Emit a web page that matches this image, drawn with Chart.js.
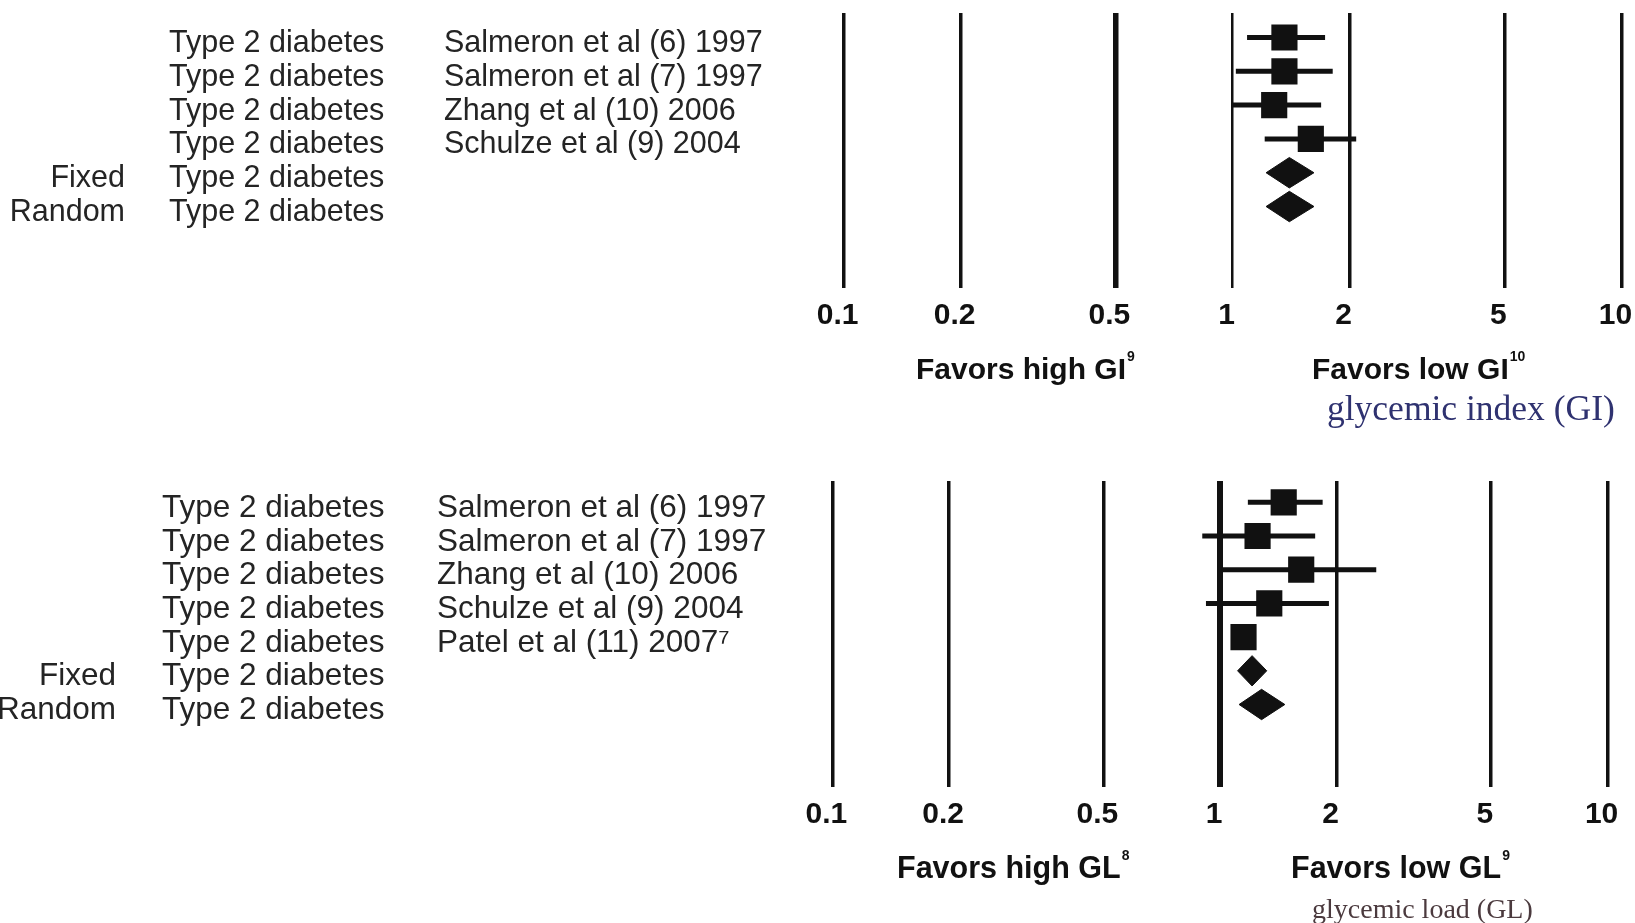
<!DOCTYPE html>
<html>
<head>
<meta charset="utf-8">
<script src="https://cdn.jsdelivr.net/npm/chart.js@4.4.1/dist/chart.umd.min.js"></script>
<style>
    html, body { margin: 0; padding: 0; background: #fff; }
    body { width: 1635px; height: 923px; position: relative; overflow: hidden; font-family: 'Liberation Sans', Arial, sans-serif; }
    .panel { position: absolute; left: 0; width: 1635px; }
    .favor { position: absolute; font-weight: bold; line-height: 1; color: #111; white-space: nowrap; }
    .favor .sup { font-size: 14px; position: relative; top: -18px; margin-left: 1px; }
    .caption { position: absolute; font-family: 'Liberation Serif', 'Times New Roman', serif; line-height: 1; white-space: nowrap; }
</style>
</head>
<body>
<div class="panel" style="top:0;height:440px"><canvas id="gi-chart"></canvas></div>
<div class="panel" style="top:440px;height:483px"><canvas id="gl-chart"></canvas></div>

<div class="favor" style="left:916px;top:354px;font-size:30px">Favors high GI<span class="sup">9</span></div>
<div class="favor" style="left:1312px;top:354px;font-size:30px">Favors low GI<span class="sup">10</span></div>
<div class="caption" style="left:1327px;top:391px;font-size:35.5px;color:#2f3270">glycemic index (GI)</div>

<div class="favor" style="left:897px;top:852px;font-size:30.5px">Favors high GL<span class="sup">8</span></div>
<div class="favor" style="left:1291px;top:852px;font-size:30.5px">Favors low GL<span class="sup">9</span></div>
<div class="caption" style="left:1312px;top:895px;font-size:28px;color:#4b3a3e">glycemic load (GL)</div>

<script>
// 刻度
const xTicks = [0.1, 0.2, 0.5, 1, 2, 5, 10];
const xTickLabels = ['0.1', '0.2', '0.5', '1', '2', '5', '10'];

// 上圖：升糖指數 (GI)
const giModels = ['', '', '', '', 'Fixed', 'Random'];
const giOutcomes = ['Type 2 diabetes', 'Type 2 diabetes', 'Type 2 diabetes', 'Type 2 diabetes', 'Type 2 diabetes', 'Type 2 diabetes'];
const giStudies = ['Salmeron et al (6) 1997', 'Salmeron et al (7) 1997', 'Zhang et al (10) 2006', 'Schulze et al (9) 2004', '', ''];
const giEstimates = [1.36, 1.36, 1.28, 1.59, 1.40, 1.40];
const giLower = [1.09, 1.02, 1.00, 1.21, 1.22, 1.22];
const giUpper = [1.73, 1.81, 1.69, 2.08, 1.62, 1.62];

// 下圖：升糖負荷 (GL)
const glModels = ['', '', '', '', '', 'Fixed', 'Random'];
const glOutcomes = ['Type 2 diabetes', 'Type 2 diabetes', 'Type 2 diabetes', 'Type 2 diabetes', 'Type 2 diabetes', 'Type 2 diabetes', 'Type 2 diabetes'];
const glStudies = ['Salmeron et al (6) 1997', 'Salmeron et al (7) 1997', 'Zhang et al (10) 2006', 'Schulze et al (9) 2004', 'Patel et al (11) 2007\u2077', '', ''];
const glEstimates = [1.46, 1.25, 1.62, 1.34, 1.15, 1.21, 1.28];
const glLower = [1.18, 0.90, 1.01, 0.92, 1.10, 1.11, 1.12];
const glUpper = [1.84, 1.76, 2.53, 1.91, 1.20, 1.32, 1.47];

const INK = '#111';
const TEXT = '#242424';
const SANS = "'Liberation Sans', Arial, sans-serif";
const DIAMOND_H = 0.45;

// 左側文字欄（用 y 軸的刻度標籤）
function labelAxis(labels, weight, width, align, pad, cfg) {
    return {
        type: 'linear',
        axis: 'y',
        position: 'left',
        reverse: true,
        offset: false,
        min: cfg.range[0],
        max: cfg.range[1],
        weight: weight,
        grid: { display: false, drawTicks: false },
        border: { display: false },
        afterBuildTicks: s => { s.ticks = labels.map((_, i) => ({ value: i + 1 })); },
        afterFit: s => { s.width = width; s.paddingTop = 0; s.paddingBottom = 0; },
        ticks: {
            autoSkip: false,
            crossAlign: align,
            padding: pad,
            labelOffset: 6,
            color: TEXT,
            font: { family: SANS, size: cfg.labelSize },
            callback: v => labels[Math.round(v) - 1]
        }
    };
}

function makeForest(canvasId, rows, cfg) {
    const squares = [];
    const ciSets = [];
    const diamondSets = [];

    rows.est.forEach((v, i) => {
        const y = i + 1;
        if (rows.models[i] !== '') {
            // 合併效應：菱形
            diamondSets.push({
                type: 'line',
                data: [
                    { x: rows.lo[i], y: y },
                    { x: v, y: y - DIAMOND_H },
                    { x: rows.hi[i], y: y },
                    { x: v, y: y + DIAMOND_H },
                    { x: rows.lo[i], y: y }
                ],
                borderColor: INK,
                backgroundColor: INK,
                borderWidth: 1,
                pointRadius: 0,
                tension: 0,
                fill: 'shape'
            });
        } else {
            // 單一研究：方塊 + 信賴區間
            squares.push({ x: v, y: y });
            ciSets.push({
                type: 'line',
                data: [{ x: rows.lo[i], y: y }, { x: rows.hi[i], y: y }],
                borderColor: INK,
                borderWidth: 5,
                borderCapStyle: 'butt',
                pointRadius: 0,
                fill: false
            });
        }
    });

    const squareSet = {
        type: 'scatter',
        data: squares,
        pointStyle: 'rect',
        pointRadius: 18.5,
        pointHoverRadius: 18.5,
        backgroundColor: INK,
        borderWidth: 0
    };

    return new Chart(document.getElementById(canvasId), {
        type: 'scatter',
        data: { datasets: [squareSet, ...diamondSets, ...ciSets] },
        options: {
            responsive: true,
            maintainAspectRatio: false,
            animation: false,
            events: [],
            layout: { padding: cfg.padding, autoPadding: false },
            plugins: { legend: { display: false }, tooltip: { enabled: false } },
            scales: {
                x: {
                    type: 'logarithmic',
                    position: 'bottom',
                    min: 0.1,
                    max: 10,
                    offset: false,
                    beginAtZero: false,
                    afterBuildTicks: s => { s.ticks = xTicks.map(v => ({ value: v })); },
                    afterFit: s => { s.height = 60; s.paddingLeft = 0; s.paddingRight = 0; },
                    grid: {
                        color: INK,
                        drawTicks: false,
                        offset: false,
                        lineWidth: ctx => (ctx.tick ? cfg.gridWidth(ctx.tick.value) : 3.5)
                    },
                    border: { display: false },
                    ticks: {
                        autoSkip: false,
                        maxRotation: 0,
                        padding: 10,
                        labelOffset: -6,
                        color: INK,
                        font: { family: "'Liberation Sans Narrow', " + SANS, size: 30, weight: 'bold' },
                        callback: v => xTickLabels[xTicks.indexOf(v)]
                    }
                },
                y: labelAxis(rows.studies, 1, cfg.widths[2], 'far', 0, cfg),
                yOutcome: labelAxis(rows.outcomes, 2, cfg.widths[1], 'far', 0, cfg),
                yModel: labelAxis(rows.models, 3, cfg.widths[0], 'near', cfg.modelPad, cfg)
            }
        }
    });
}

makeForest('gi-chart', {
    models: giModels, outcomes: giOutcomes, studies: giStudies,
    est: giEstimates, lo: giLower, hi: giUpper
}, {
    padding: { top: 13, right: 13.6, bottom: 92, left: 0 },
    widths: [169, 275, 399.6],
    modelPad: 44,
    labelSize: 30.5,
    range: [0.275, 8.41],
    gridWidth: v => (v === 0.5 ? 5.5 : (v === 1 ? 2.5 : 3.5))
});

makeForest('gl-chart', {
    models: glModels, outcomes: glOutcomes, studies: glStudies,
    est: glEstimates, lo: glLower, hi: glUpper
}, {
    padding: { top: 41, right: 27.4, bottom: 76, left: 0 },
    widths: [162, 275, 395.4],
    modelPad: 46,
    labelSize: 31.5,
    range: [0.368, 9.448],
    gridWidth: v => (v === 1 ? 6 : 3.5)
});
</script>
</body>
</html>
